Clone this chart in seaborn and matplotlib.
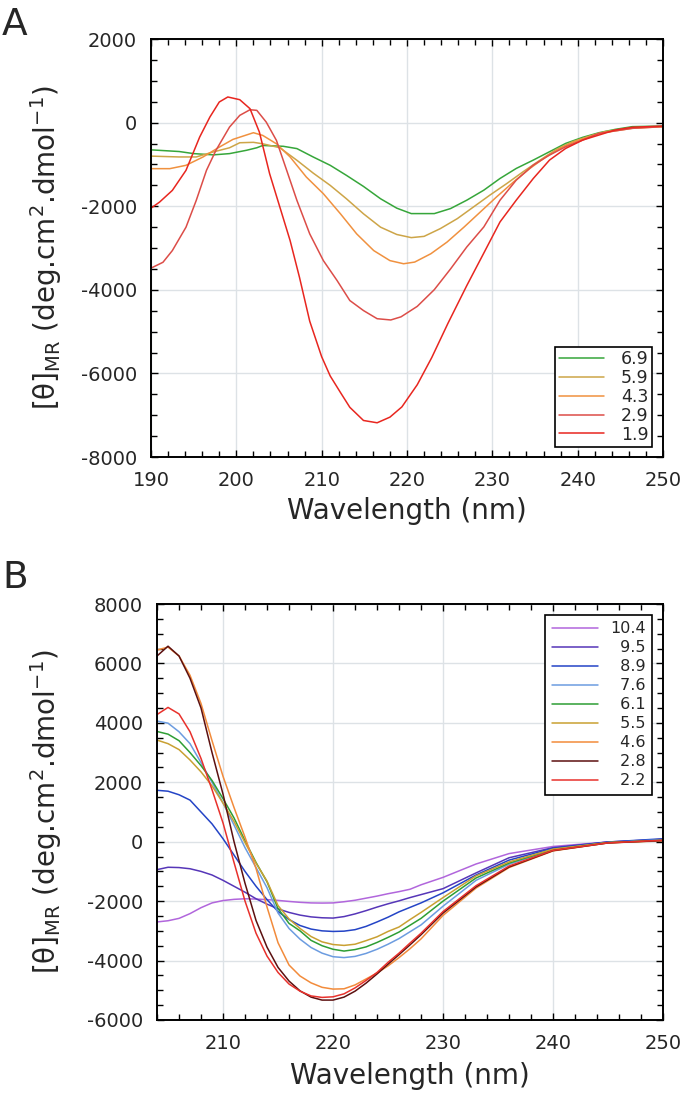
#!/usr/bin/env python3
# CD spectra at different pH, two panels (A, B)

import matplotlib
matplotlib.use("Agg")
import matplotlib.pyplot as plt
import pandas as pd
import seaborn as sns
from matplotlib.ticker import MultipleLocator

# ---- panel A ----------------------------------------------------------------
ph_a = ["6.9", "5.9", "4.3", "2.9", "1.9"]
colors_a = ["#36a63a", "#cda548", "#f0913f", "#dc4d48", "#e8261f"]

wl_a_69 = [190, 193.3, 195, 197.3, 199.2, 201.2, 202.4, 203.1, 205.5, 207.1, 209, 211,
           212.9, 214.9, 216.9, 218.8, 220.5, 223.2, 225.1, 227, 229, 230.9, 232.8,
           234.8, 236.7, 238.6, 240.6, 242.5, 244.4, 246.4, 250]
cd_a_69 = [-650, -690, -740, -770, -740, -660, -600, -545, -565, -620, -820, -1020,
           -1260, -1525, -1820, -2045, -2175, -2175, -2055, -1855, -1615, -1335, -1095,
           -895, -695, -495, -350, -240, -160, -95, -80]

wl_a_59 = [190, 193.3, 195.3, 197.3, 199.2, 200.4, 202, 203.1, 205.1, 207.1, 209, 211,
           212.9, 214.9, 216.9, 218.8, 220.5, 222, 223.9, 225.9, 227.8, 229.7, 231.7,
           233.6, 235.6, 237.5, 239.4, 241.4, 243.3, 246.4, 250]
cd_a_59 = [-800, -820, -820, -700, -600, -480, -470, -505, -600, -900, -1205, -1500,
           -1820, -2180, -2500, -2675, -2750, -2720, -2535, -2295, -2015, -1735, -1455,
           -1175, -895, -640, -455, -320, -210, -120, -95]

wl_a_43 = [190, 192.2, 194.1, 196.1, 198, 199.6, 202, 203.1, 204.7, 206.3, 208.2, 210.2,
           212.2, 214.1, 216.1, 218, 219.6, 220.9, 222.8, 224.7, 226.7, 228.6, 230.5,
           232.5, 234.4, 236.3, 238.3, 240.2, 242.5, 246.4, 250]
cd_a_43 = [-1100, -1100, -1020, -820, -585, -400, -240, -305, -505, -820, -1300, -1700,
           -2180, -2660, -3060, -3300, -3375, -3335, -3135, -2855, -2495, -2135, -1775,
           -1415, -1095, -815, -575, -415, -255, -135, -95]

wl_a_29 = [190, 191.4, 192.5, 194.1, 195.3, 196.5, 197.6, 199.2, 200.4, 201.6, 202.4,
           203.5, 204.7, 205.9, 207.1, 208.6, 210.2, 211.8, 213.3, 214.9, 216.5, 218.1,
           219.3, 221.2, 223.2, 225.1, 227, 229, 230.9, 232.8, 234.8, 236.7, 238.6,
           240.6, 242.5, 246.4, 250]
cd_a_29 = [-3480, -3340, -3060, -2500, -1860, -1140, -665, -105, 175, 310, 295,
           15, -425, -1140, -1860, -2660, -3300, -3775, -4255, -4495, -4690, -4720,
           -4645, -4395, -3995, -3500, -2975, -2495, -1855, -1375, -1015, -775, -575,
           -415, -255, -135, -95]

wl_a_19 = [190, 191, 192.5, 194.1, 195.7, 196.9, 198, 199, 200.4, 201.6, 202.7, 203.9,
           205.1, 206.3, 207.4, 208.6, 210, 211, 212.2, 213.3, 214.9, 216.5, 218,
           219.4, 221.2, 222.9, 224.8, 227, 229, 230.9, 232.8, 234.8, 236.7, 238.6,
           240.6, 242.5, 244.4, 246.4, 250]
cd_a_19 = [-2045, -1900, -1620, -1140, -345, 135, 495, 615, 550, 335, -225, -1220,
           -2020, -2820, -3700, -4750, -5600, -6060, -6455, -6810, -7125, -7180, -7045,
           -6800, -6270, -5620, -4800, -3900, -3120, -2375, -1855, -1335, -895, -615,
           -415, -295, -175, -110, -80]

# ---- panel B ----------------------------------------------------------------
ph_b = ["10.4", "9.5", "8.9", "7.6", "6.1", "5.5", "4.6", "2.8", "2.2"]
colors_b = ["#b166dc", "#5636b8", "#2444c6", "#6c9ce0", "#2e9e34", "#c9a032",
            "#f28b3b", "#5c1010", "#e8312c"]

wl_b = [204, 205, 206, 207, 208, 209, 210, 211, 212, 213, 214, 215, 216, 217, 218, 219,
        220, 221, 222, 223, 224, 225, 226, 227, 228, 230, 233, 236, 240, 245, 250]

cd_b_104 = [-2700, -2660, -2580, -2420, -2220, -2060, -1980, -1940, -1920, -1930, -1950,
            -1975, -2010, -2040, -2060, -2065, -2060, -2020, -1970, -1900, -1830, -1750,
            -1680, -1600, -1450, -1200, -750, -400, -160, -10, 40]
cd_b_95 = [-940, -860, -870, -910, -1000, -1120, -1300, -1500, -1700, -1920, -2100,
           -2260, -2380, -2470, -2530, -2560, -2570, -2520, -2430, -2320, -2200, -2090,
           -1990, -1880, -1780, -1580, -1050, -540, -200, -10, 80]
cd_b_89 = [1730, 1700, 1580, 1400, 1000, 600, 100, -450, -1000, -1500, -1950, -2350,
           -2620, -2820, -2940, -3000, -3020, -3010, -2960, -2850, -2700, -2540, -2360,
           -2210, -2060, -1720, -1120, -620, -220, -10, 100]
cd_b_76 = [4060, 3990, 3700, 3300, 2660, 2000, 1300, 560, -200, -870, -1550, -2400,
           -2920, -3280, -3560, -3750, -3870, -3900, -3860, -3760, -3620, -3450, -3260,
           -3030, -2800, -2170, -1300, -760, -270, -30, 70]
cd_b_61 = [3710, 3620, 3400, 3000, 2560, 2060, 1450, 800, 30, -700, -1350, -2250,
           -2750, -3000, -3320, -3500, -3620, -3680, -3630, -3540, -3390, -3220, -3040,
           -2810, -2580, -2000, -1220, -720, -260, -30, 50]
cd_b_55 = [3420, 3300, 3100, 2750, 2350, 1880, 1300, 680, -30, -720, -1330, -2150,
           -2600, -2920, -3190, -3370, -3460, -3490, -3450, -3330, -3200, -3020, -2870,
           -2620, -2380, -1880, -1150, -680, -250, -30, 40]
cd_b_46 = [6450, 6550, 6250, 5600, 4650, 3400, 2200, 1150, 150, -900, -2200, -3400,
           -4150, -4520, -4750, -4900, -4960, -4950, -4820, -4620, -4420, -4180, -3900,
           -3600, -3270, -2480, -1560, -870, -310, -40, 30]
cd_b_28 = [6250, 6580, 6250, 5500, 4500, 3000, 1600, 0, -1400, -2650, -3550, -4230,
           -4690, -5020, -5230, -5330, -5330, -5230, -5030, -4760, -4450, -4120, -3800,
           -3470, -3130, -2400, -1520, -850, -300, -40, 40]
cd_b_22 = [4280, 4520, 4300, 3700, 2800, 1750, 630, -700, -2000, -3080, -3850, -4400,
           -4790, -5030, -5190, -5240, -5220, -5120, -4920, -4670, -4400, -4060, -3750,
           -3410, -3080, -2350, -1480, -820, -290, -40, 50]

YLABEL = r"[θ]$_\mathregular{MR}$ (deg.cm$^\mathregular{2}$.dmol$^\mathregular{-1}$)"
XLABEL = "Wavelength (nm)"


def long_frame(labels, wls, cds):
    frames = [pd.DataFrame({"wl": w, "cd": c, "pH": lab}) for lab, w, c in zip(labels, wls, cds)]
    return pd.concat(frames, ignore_index=True)


def style_axes(ax, xlim, ylim):
    ax.set_xlim(*xlim)
    ax.set_ylim(*ylim)
    ax.xaxis.set_major_locator(MultipleLocator(10))
    ax.xaxis.set_minor_locator(MultipleLocator(2))
    ax.yaxis.set_major_locator(MultipleLocator(2000))
    ax.yaxis.set_minor_locator(MultipleLocator(500))
    ax.tick_params(which="both", direction="in", top=True, right=True,
                   width=1.0, color="black")
    ax.tick_params(which="major", length=5, labelsize=14, pad=10)
    ax.tick_params(which="minor", length=4)
    ax.grid(True, which="major", color="#dde2e6", lw=1.0)
    ax.set_axisbelow(True)
    for s in ax.spines.values():
        s.set_linewidth(1.4)
        s.set_color("black")


def add_legend(ax, labels, anchor, loc, fontsize, handlelength, textpad,
               labelspacing, borderpad):
    # labels right-aligned by padding with figure spaces
    width = max(len(l) for l in labels)
    texts = [l.rjust(width, "\u2007") for l in labels]
    leg = ax.legend(ax.lines[:len(labels)], texts, loc=loc, bbox_to_anchor=anchor,
                    borderaxespad=0, fontsize=fontsize, handlelength=handlelength,
                    handletextpad=textpad, labelspacing=labelspacing,
                    borderpad=borderpad, fancybox=False, framealpha=1,
                    edgecolor="black")
    leg.get_frame().set_linewidth(1.2)
    return leg


def main():
    sns.set_theme(style="ticks")
    plt.rcParams["font.family"] = ["DejaVu Sans"]
    plt.rcParams["axes.unicode_minus"] = False

    fig = plt.figure(figsize=(6.83, 10.95), dpi=100)
    ax_a = fig.add_axes([0.2211, 0.5826, 0.7496, 0.3817])
    ax_b = fig.add_axes([0.2299, 0.0685, 0.7409, 0.3799])

    df_a = long_frame(ph_a, [wl_a_69, wl_a_59, wl_a_43, wl_a_29, wl_a_19],
                      [cd_a_69, cd_a_59, cd_a_43, cd_a_29, cd_a_19])
    sns.lineplot(data=df_a, x="wl", y="cd", hue="pH", hue_order=ph_a,
                 palette=dict(zip(ph_a, colors_a)), estimator=None, sort=False,
                 lw=1.1, legend=False, ax=ax_a)

    cds_b = [cd_b_104, cd_b_95, cd_b_89, cd_b_76, cd_b_61, cd_b_55, cd_b_46, cd_b_28, cd_b_22]
    df_b = long_frame(ph_b, [wl_b] * len(ph_b), cds_b)
    sns.lineplot(data=df_b, x="wl", y="cd", hue="pH", hue_order=ph_b,
                 palette=dict(zip(ph_b, colors_b)), estimator=None, sort=False,
                 lw=1.1, legend=False, ax=ax_b)

    style_axes(ax_a, (190, 250), (-8000, 2000))
    style_axes(ax_b, (204, 250), (-6000, 8000))

    for ax, xl, yl in [(ax_a, -0.096, -0.170), (ax_b, -0.101, -0.184)]:
        ax.set_xlabel(XLABEL, fontsize=20)
        ax.set_ylabel(YLABEL, fontsize=20)
        ax.xaxis.set_label_coords(0.5, xl)
        ax.yaxis.set_label_coords(yl, 0.5)

    add_legend(ax_a, ph_a, (0.979, 0.024), "lower right", 12.5, 2.6, 1.0, 0.05, 0.2)
    add_legend(ax_b, ph_b, (0.978, 0.974), "upper right", 11.5, 2.9, 0.75, 0.25, 0.4)

    fig.text(0.003, 0.968, "A", fontsize=27, va="baseline", ha="left")
    fig.text(0.003, 0.463, "B", fontsize=27, va="baseline", ha="left")

    fig.savefig("out.png", dpi=100)
    plt.close(fig)


if __name__ == "__main__":
    main()
